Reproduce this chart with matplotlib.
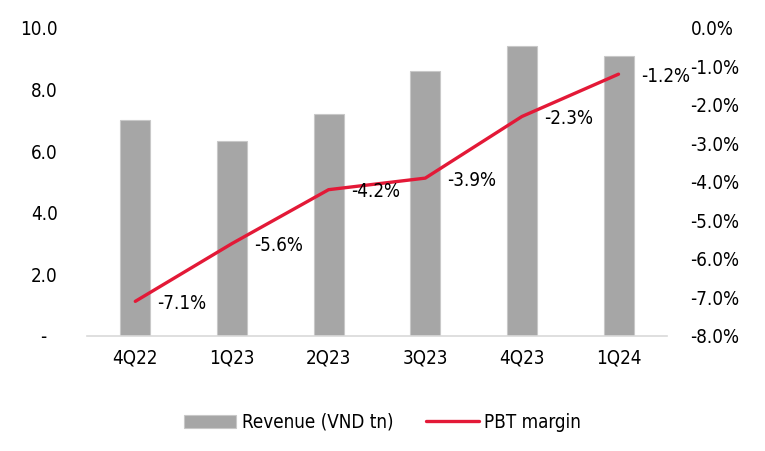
import matplotlib.pyplot as plt
from matplotlib.ticker import FuncFormatter
import numpy as np

quarters = ['4Q22', '1Q23', '2Q23', '3Q23', '4Q23', '1Q24']
revenue = [7.0, 6.33, 7.2, 8.6, 9.42, 9.09]
pbt_margin = [-7.1, -5.6, -4.2, -3.9, -2.3, -1.2]

plt.rcParams['font.family'] = ['DejaVu Sans']
plt.rcParams['font.stretch'] = 'condensed'
plt.rcParams['font.size'] = 13.5

fig = plt.figure(figsize=(7.65, 4.51), dpi=100)
ax = fig.add_axes([0.1137, 0.255, 0.758, 0.683])
x = np.arange(len(quarters))

# 柱子 - 收入
bars = ax.bar(x, revenue, width=0.31, color='#a6a6a6', edgecolor='#c8c8c8',
              linewidth=0.8, label='Revenue (VND tn)', zorder=2)
ax.set_xlim(-0.5, len(quarters) - 0.5)
ax.set_ylim(0, 10)
ax.set_yticks([0, 2, 4, 6, 8, 10])
ax.yaxis.set_major_formatter(FuncFormatter(lambda v, p: '-  ' if v == 0 else '%.1f' % v))
ax.set_xticks(x)
ax.set_xticklabels(quarters)
for s in ['top', 'left', 'right']:
    ax.spines[s].set_visible(False)
ax.spines['bottom'].set_color('#d9d9d9')
ax.spines['bottom'].set_linewidth(1.2)
ax.tick_params(axis='both', length=0)
ax.tick_params(axis='x', pad=9)
ax.tick_params(axis='y', pad=21)

# 折线 - 利润率
ax2 = ax.twinx()
line, = ax2.plot(x, pbt_margin, color='#e31937', linewidth=2.4,
                 solid_capstyle='round', label='PBT margin', zorder=3)
ax2.set_ylim(-8, 0)
ax2.set_yticks(np.arange(-8, 0.1, 1))
ax2.yaxis.set_major_formatter(FuncFormatter(lambda v, p: '%.1f%%' % v))
for s in ['top', 'left', 'right', 'bottom']:
    ax2.spines[s].set_visible(False)
ax2.tick_params(axis='y', length=0, pad=17)

for xi, v in zip(x, pbt_margin):
    ax2.annotate('%.1f%%' % v, (xi, v), xytext=(16, -1.5), textcoords='offset points',
                 ha='left', va='center')

fig.legend([bars, line], ['Revenue (VND tn)', 'PBT margin'], loc='center',
           bbox_to_anchor=(0.5, 0.064), ncol=2, frameon=False,
           handlelength=2.8, handletextpad=0.3, columnspacing=1.75)

plt.savefig('out.png')
